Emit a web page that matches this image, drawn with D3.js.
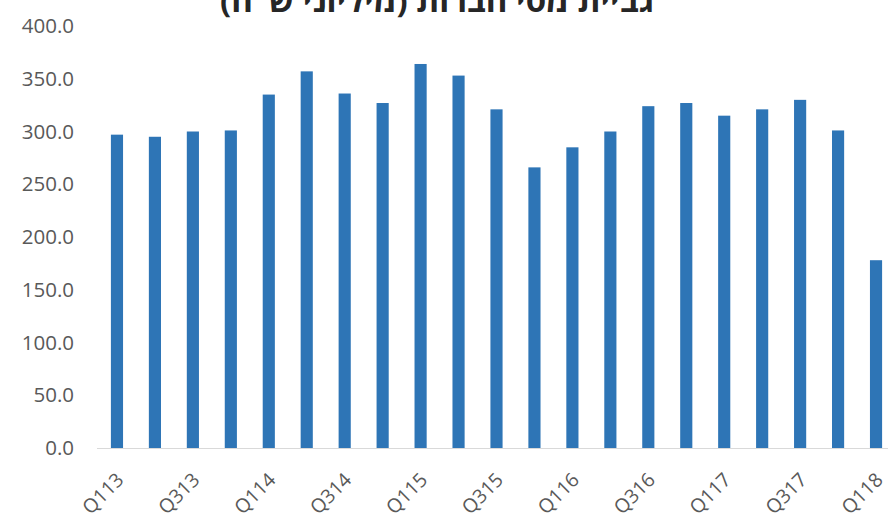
<!DOCTYPE html>
<html>
<head>
<meta charset="utf-8">
<script src="https://cdn.jsdelivr.net/npm/d3@7"></script>
<style>
  html, body { margin: 0; padding: 0; background: #ffffff; }
  svg { display: block; }
</style>
</head>
<body>
<div id="chart"></div>
<script>
// Quarterly corporate tax collection
const quarters = ["Q113","Q213","Q313","Q413","Q114","Q214","Q314","Q414","Q115","Q215","Q315",
                  "Q415","Q116","Q216","Q316","Q416","Q117","Q217","Q317","Q417","Q118"];
const collected = [297, 295, 300, 301, 335, 357, 336, 327, 364, 353, 321,
                   266, 285, 300, 324, 327, 315, 321, 330, 301, 178];
const yTicks = [0, 50, 100, 150, 200, 250, 300, 350, 400];
const shownLabels = ["Q113","Q313","Q114","Q314","Q115","Q315","Q116","Q316","Q117","Q317","Q118"];
const title = "גביית מסי חברות (מיליוני ש\"ח)";

const W = 888, H = 522;
const font = "'Open Sans', 'DejaVu Sans', sans-serif";
const svg = d3.select("#chart").append("svg").attr("width", W).attr("height", H);

const x = d3.scaleBand().domain(quarters).range([98, 895]).paddingInner(0.68).paddingOuter(0.34);
const y = d3.scaleLinear().domain([0, 400]).range([448, 26]);

// title (runs off the top edge of the frame)
svg.append("text")
  .attr("x", 437).attr("y", 12)
  .attr("text-anchor", "middle")
  .attr("direction", "rtl")
  .style("font-family", font)
  .style("font-size", "33px").style("font-weight", "bold")
  .attr("fill", "#262626")
  .text(title);

// y axis labels
const yAxis = d3.axisLeft(y).tickValues(yTicks).tickFormat(d3.format(".1f")).tickSize(0).tickPadding(0);
const gy = svg.append("g").attr("transform", "translate(74,0)").call(yAxis);
gy.select(".domain").remove();
gy.selectAll("text")
  .style("font-family", font)
  .style("font-size", "20.5px").attr("fill", "#595959");

// bars
svg.append("g").selectAll("rect").data(quarters).join("rect")
  .attr("x", d => x(d))
  .attr("width", x.bandwidth())
  .attr("y", (d, i) => y(collected[i]))
  .attr("height", (d, i) => y(0) - y(collected[i]))
  .attr("fill", "#2E75B6");

// x axis
const xAxis = d3.axisBottom(x).tickValues(shownLabels).tickSize(0).tickPadding(0);
const gx = svg.append("g").attr("transform", `translate(0,${y(0)})`).call(xAxis);
gx.select(".domain").attr("d", `M97,0.5H${W}`).attr("stroke", "#d9d9d9").attr("stroke-width", 1.2);
gx.selectAll("text")
  .style("font-family", font)
  .style("font-size", "19.5px").attr("fill", "#595959")
  .attr("text-anchor", "end")
  .attr("y", 0)
  .attr("dy", "0")
  .attr("transform", "translate(8,33) rotate(-45)");
</script>
</body>
</html>
